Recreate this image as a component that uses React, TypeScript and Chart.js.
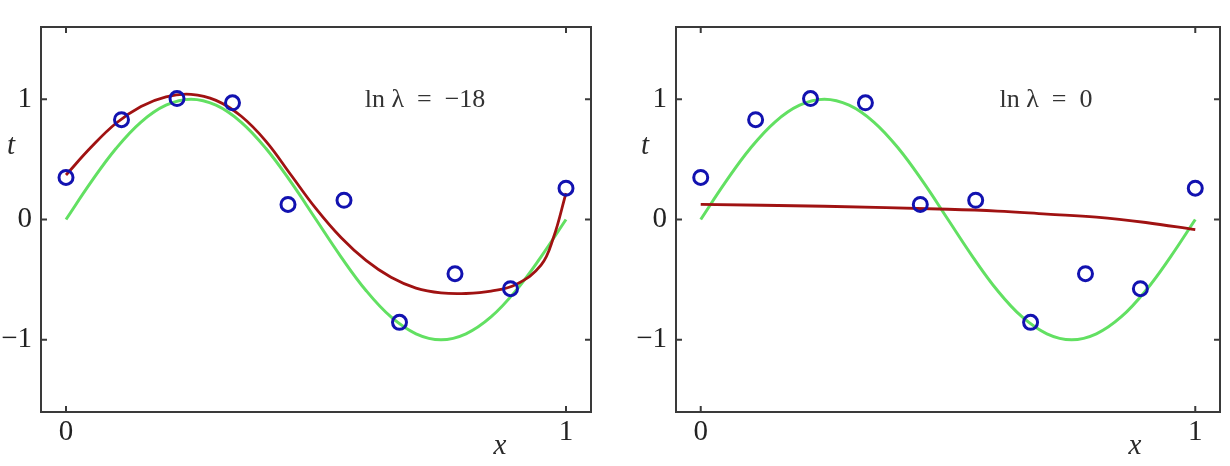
import React, { useEffect, useRef } from "react";
import { Chart, registerables } from "chart.js";

Chart.register(...registerables);

// Observed data points (x, t)
const pointX = [0, 0.111, 0.222, 0.333, 0.444, 0.556, 0.667, 0.778, 0.889, 1];
const pointT = [0.35, 0.83, 1.005, 0.97, 0.125, 0.16, -0.855, -0.45, -0.575, 0.26];

// Green curve (true function)
const greenX = [0, 0.05, 0.1, 0.15, 0.2, 0.25, 0.3, 0.35, 0.4, 0.45, 0.5, 0.55, 0.6, 0.65, 0.7, 0.75, 0.8, 0.85, 0.9, 0.95, 1];
const greenT = [0, 0.31, 0.59, 0.81, 0.95, 1, 0.95, 0.81, 0.59, 0.31, 0, -0.31, -0.59, -0.81, -0.95, -1, -0.95, -0.81, -0.59, -0.31, 0];

// Red fitted curve, ln λ = −18
const redLeftX = [0, 0.05, 0.1, 0.15, 0.2, 0.25, 0.3, 0.35, 0.4, 0.45, 0.5, 0.55, 0.6, 0.65, 0.7, 0.75, 0.8, 0.85, 0.9, 0.95, 0.975, 1];
const redLeftT = [0.37, 0.6, 0.8, 0.94, 1.02, 1.04, 0.99, 0.86, 0.65, 0.37, 0.09, -0.15, -0.34, -0.48, -0.57, -0.61, -0.615, -0.595, -0.54, -0.38, -0.15, 0.22];

// Red fitted curve, ln λ = 0
const redRightX = [0, 0.25, 0.5, 0.6, 0.7, 0.8, 0.9, 1];
const redRightT = [0.125, 0.11, 0.085, 0.07, 0.045, 0.02, -0.025, -0.085];

const xTicks = [0, 1];
const xTickLabels = ["0", "1"];
const yTicks = [-1, 0, 1];
const yTickLabels = ["\u22121", "0", "1"];

const panelLabels = ["ln \u03bb  =  \u221218", "ln \u03bb  =  0"];

const SERIF = '"Liberation Serif", "Times New Roman", Times, serif';

const framePlugin = {
  id: "frame",
  afterDraw(chart: any, _args: any, opts: any) {
    const { ctx, chartArea: a, scales } = chart;
    ctx.save();
    ctx.strokeStyle = "#3a3a3a";
    ctx.lineWidth = 2;
    ctx.strokeRect(a.left, a.top, a.right - a.left, a.bottom - a.top);
    const tl = 6;
    ctx.beginPath();
    for (const v of xTicks) {
      const px = scales.x.getPixelForValue(v);
      ctx.moveTo(px, a.bottom);
      ctx.lineTo(px, a.bottom - tl);
      ctx.moveTo(px, a.top);
      ctx.lineTo(px, a.top + tl);
    }
    for (const v of yTicks) {
      const py = scales.y.getPixelForValue(v);
      ctx.moveTo(a.left, py);
      ctx.lineTo(a.left + tl, py);
      ctx.moveTo(a.right, py);
      ctx.lineTo(a.right - tl, py);
    }
    ctx.stroke();

    ctx.fillStyle = "#2a2a2a";
    ctx.textAlign = "center";
    ctx.textBaseline = "middle";
    ctx.font = "italic 29px " + SERIF;
    ctx.fillText("t", opts.tPos[0], opts.tPos[1]);
    ctx.fillText("x", opts.xPos[0], opts.xPos[1]);
    ctx.fillStyle = "#333333";
    ctx.font = "26px " + SERIF;
    ctx.fillText(opts.label, opts.labelPos[0], opts.labelPos[1]);
    ctx.restore();
  },
};

function makeConfig(redX: number[], redT: number[], padLeft: number, padRight: number, label: string, labelPos: number[], tPos: number[], xPos: number[]) {
  return {
    type: "line",
    data: {
      datasets: [
        {
          label: "points",
          data: pointX.map((x, i) => ({ x, y: pointT[i] })),
          showLine: false,
          pointRadius: 7,
          pointBorderWidth: 3,
          pointBorderColor: "#1212b0",
          pointBackgroundColor: "rgba(0,0,0,0)",
          borderColor: "#1212b0",
        },
        {
          label: "fit",
          data: redX.map((x, i) => ({ x, y: redT[i] })),
          borderColor: "#a01212",
          borderWidth: 2.8,
          pointRadius: 0,
          tension: 0.4,
          fill: false,
        },
        {
          label: "true",
          data: greenX.map((x, i) => ({ x, y: greenT[i] })),
          borderColor: "#62e062",
          borderWidth: 3,
          pointRadius: 0,
          tension: 0.4,
          fill: false,
        },
      ],
    },
    options: {
      responsive: false,
      animation: false,
      layout: { padding: { left: 0, right: padRight, top: 27, bottom: 0 } },
      plugins: {
        legend: { display: false },
        tooltip: { enabled: false },
        frame: { label, labelPos, tPos, xPos },
      },
      scales: {
        x: {
          type: "linear",
          min: -0.05,
          max: 1.05,
          afterBuildTicks: (s: any) => {
            s.ticks = xTicks.map((v) => ({ value: v }));
          },
          afterFit: (s: any) => {
            s.height = 54;
          },
          grid: { display: false, drawTicks: false },
          border: { display: false },
          ticks: {
            padding: 3,
            color: "#222",
            font: { family: SERIF, size: 29 },
            maxRotation: 0,
            callback: (v: number) => xTickLabels[xTicks.indexOf(v)],
          },
        },
        y: {
          type: "linear",
          min: -1.6,
          max: 1.6,
          afterBuildTicks: (s: any) => {
            s.ticks = yTicks.map((v) => ({ value: v }));
          },
          afterFit: (s: any) => {
            s.width = padLeft;
          },
          grid: { display: false, drawTicks: false },
          border: { display: false },
          ticks: {
            padding: 9,
            color: "#222",
            font: { family: SERIF, size: 29 },
            callback: (v: number) => yTickLabels[yTicks.indexOf(v)],
          },
        },
      },
    },
    plugins: [framePlugin],
  };
}

function Panel({ left, config }: { left: number; config: any }) {
  const ref = useRef<HTMLCanvasElement | null>(null);
  useEffect(() => {
    if (!ref.current) return;
    const chart = new Chart(ref.current, config);
    return () => chart.destroy();
  }, []);
  return (
    <canvas
      ref={ref}
      width={615}
      height={466}
      style={{ position: "absolute", left, top: 0, width: 615, height: 466 }}
    />
  );
}

export default function App() {
  const leftCfg = makeConfig(redLeftX, redLeftT, 41, 24, panelLabels[0], [425, 100], [11, 146], [500, 446]);
  const rightCfg = makeConfig(redRightX, redRightT, 61, 6, panelLabels[1], [431, 100], [30, 146], [520, 446]);
  return (
    <div style={{ position: "fixed", left: 0, top: 0, width: 1230, height: 466, background: "#fff" }}>
      <Panel left={0} config={leftCfg} />
      <Panel left={615} config={rightCfg} />
    </div>
  );
}
